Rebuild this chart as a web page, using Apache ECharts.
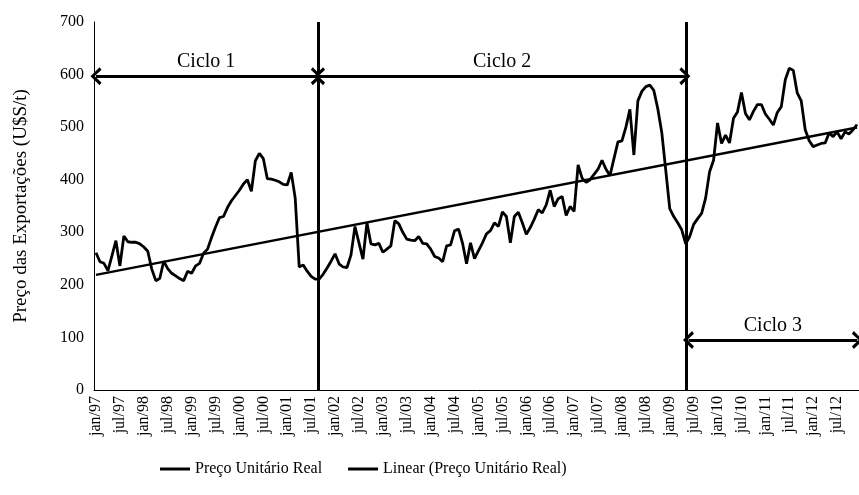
<!DOCTYPE html>
<html>
<head>
<meta charset="utf-8">
<script src="https://cdn.jsdelivr.net/npm/echarts@6/dist/echarts.min.js"></script>
<style>
  html, body { margin: 0; padding: 0; background: #fff; }
  #chart { width: 859px; height: 495px; }
</style>
</head>
<body>
<div id="chart"></div>
<script>
// meses jan/97 .. dez/12
const years = ['97','98','99','00','01','02','03','04','05','06','07','08','09','10','11','12'];
const months = ['jan','fev','mar','abr','mai','jun','jul','ago','set','out','nov','dez'];
const categories = [];
years.forEach(y => months.forEach(m => categories.push(m + '/' + y)));

// Preço Unitário Real (U$S/t), mensal
const preco = [
  261, 244, 241, 227, 255, 284, 236, 293, 282, 281, 281, 278,
  272, 264, 230, 208, 212, 245, 231, 222, 217, 212, 208, 226,
  222, 236, 241, 260, 268, 290, 310, 328, 330, 347, 360, 370,
  380, 392, 400, 378, 436, 450, 440, 402, 401, 399, 396, 391,
  390, 414, 365, 234, 238, 226, 216, 211, 211, 220, 232, 245,
  259, 240, 234, 233, 257, 311, 280, 249, 318, 278, 276, 279,
  262, 268, 274, 322, 316, 300, 287, 285, 284, 292, 279, 278,
  268, 254, 251, 244, 274, 276, 303, 306, 279, 240, 280, 250,
  265, 280, 297, 303, 318, 311, 339, 330, 280, 330, 338, 318,
  296, 309, 325, 343, 337, 352, 380, 349, 364, 368, 332, 349,
  340, 428, 403, 395, 400, 410, 420, 437, 420, 408, 440, 472,
  474, 500, 534, 447, 550, 568, 577, 580, 570, 535, 490, 418,
  345, 330, 318, 305, 278, 292, 315, 326, 336, 365, 415, 437,
  508, 469, 485, 470, 517, 529, 566, 526, 514, 530, 543, 543,
  525, 515, 504, 528, 539, 590, 612, 608, 565, 550, 495, 474,
  463, 466, 469, 470, 489, 482, 491, 478, 491, 487, 495, 505
];

const trendPoints = [[0.5, 219], [191.5, 499.5]];

// divisões dos ciclos (posição em meses) e nível das setas
const cycleBreaks = [56.2, 148.75];
const cycleArrows = [
  { name: 'Ciclo 1', from: 0.5, to: 55.8, level: 597 },
  { name: 'Ciclo 2', from: 56.6, to: 148.3, level: 597 },
  { name: 'Ciclo 3', from: 149.2, to: 191.6, level: 95 }
];

const font = 'Liberation Serif';
const chevron = 'path://M0,12 L10,0 L20,12 L17,14.5 L10,5.5 L3,14.5 Z';

const markData = [];
cycleBreaks.forEach(x => {
  markData.push([
    { coord: [x, 0], symbol: 'none', lineStyle: { width: 3 }, label: { show: false } },
    { coord: [x, 700], symbol: 'none' }
  ]);
});
cycleArrows.forEach(a => {
  markData.push([
    { coord: [a.from, a.level], symbol: chevron, symbolSize: [18, 11],
      lineStyle: { width: 2.8 },
      label: { show: true, formatter: a.name, position: 'middle', distance: 4,
               color: '#000', fontFamily: font, fontSize: 20 } },
    { coord: [a.to, a.level], symbol: chevron, symbolSize: [18, 11] }
  ]);
});

const chart = echarts.init(document.getElementById('chart'));
chart.setOption({
  animation: false,
  textStyle: { fontFamily: font, color: '#000' },
  grid: { left: 94, right: -3, top: 22, bottom: 105 },
  legend: {
    bottom: 13,
    left: 155,
    icon: 'rect',
    itemWidth: 30,
    itemHeight: 3,
    itemGap: 26,
    textStyle: { fontFamily: font, fontSize: 16, color: '#000' },
    data: ['Preço Unitário Real', 'Linear (Preço Unitário Real)']
  },
  xAxis: [
    {
      type: 'category',
      data: categories,
      boundaryGap: true,
      axisLine: { lineStyle: { color: '#000', width: 1 } },
      axisTick: { interval: 5, length: 5, lineStyle: { color: '#000' } },
      axisLabel: { interval: 5, rotate: 90, margin: 6, color: '#000', fontFamily: font, fontSize: 16 },
      splitLine: { show: false }
    },
    {
      type: 'value',
      min: 0,
      max: 192,
      show: false,
      splitLine: { show: false }
    }
  ],
  yAxis: {
    type: 'value',
    min: 0,
    max: 700,
    interval: 100,
    name: 'Preço das Exportações (U$S/t)',
    nameLocation: 'middle',
    nameGap: 63,
    nameTextStyle: { fontFamily: font, fontSize: 19, color: '#000' },
    axisLine: { show: true, lineStyle: { color: '#000', width: 1 } },
    axisTick: { show: false },
    axisLabel: { margin: 10, color: '#000', fontFamily: font, fontSize: 16 },
    splitLine: { show: false }
  },
  series: [
    {
      name: 'Preço Unitário Real',
      type: 'line',
      xAxisIndex: 0,
      data: preco,
      showSymbol: false,
      symbol: 'none',
      lineStyle: { color: '#000', width: 2.8 },
      itemStyle: { color: '#000' }
    },
    {
      name: 'Linear (Preço Unitário Real)',
      type: 'line',
      xAxisIndex: 1,
      data: trendPoints,
      showSymbol: false,
      symbol: 'none',
      lineStyle: { color: '#000', width: 2.5 },
      itemStyle: { color: '#000' },
      markLine: {
        silent: true,
        animation: false,
        lineStyle: { color: '#000', type: 'solid', width: 2.8 },
        data: markData
      }
    }
  ]
});
</script>
</body>
</html>
